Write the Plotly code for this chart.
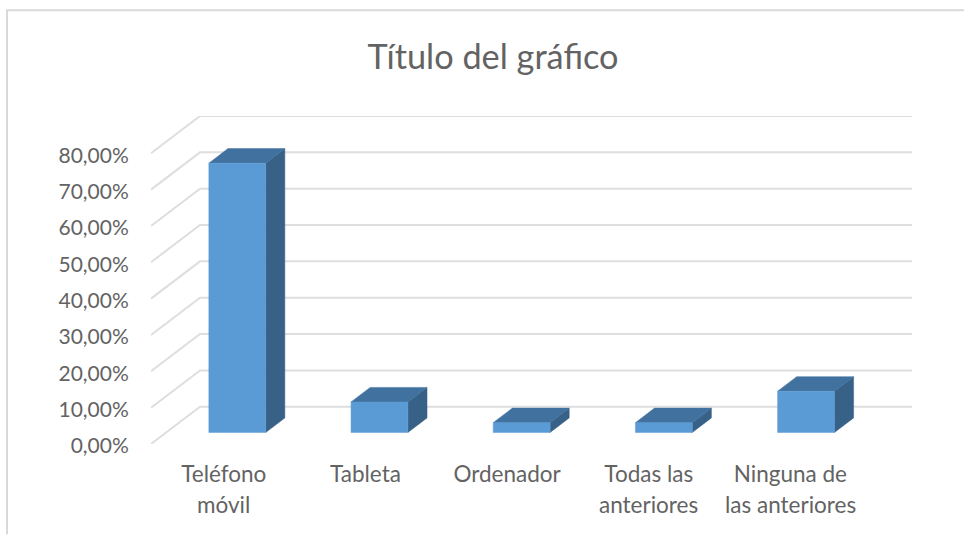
import plotly.graph_objects as go

categories_line1 = ["Teléfono", "Tableta", "Ordenador", "Todas las", "Ninguna de"]
categories_line2 = ["móvil", "", "", "anteriores", "las anteriores"]
values = [74.1, 8.4, 2.7, 2.7, 11.35]
y_ticks = [0, 10, 20, 30, 40, 50, 60, 70, 80]
y_tick_labels = ["0,00%", "10,00%", "20,00%", "30,00%", "40,00%", "50,00%", "60,00%", "70,00%", "80,00%"]
title_text = "Título del gráfico"

W, H = 964, 535
FONT = "Lato"
TEXT = "#636363"
GRID = "#DEDEDE"
FRONT, TOP, SIDE = "#5B9BD5", "#41719F", "#386187"

# Oblique projection, in axis units: one unit of depth moves a point by these amounts
DX, DY = 0.3446, 10.25
D0, D1 = 0.31, 0.70      # depth span of the bars
HW = 0.2                 # half bar width
X0, X1 = -0.5, 4.852
Y0, Y1 = 0, 90.25
label_x = [i * 0.9962 + 0.012 for i in range(5)]


def proj(x, y, d):
    return x + DX * d, y + DY * d


fig = go.Figure()


def poly(pts, color):
    xs = [p[0] for p in pts] + [pts[0][0]]
    ys = [p[1] for p in pts] + [pts[0][1]]
    fig.add_trace(go.Scatter(x=xs, y=ys, mode="lines", fill="toself", fillcolor=color,
                             line=dict(color=color, width=0.5), hoverinfo="skip", showlegend=False))


for v in y_ticks:
    bx, by = proj(X0, v, 1)
    fig.add_trace(go.Scatter(x=[X0, bx, X1], y=[v, by, by], mode="lines",
                             line=dict(color=GRID, width=2), hoverinfo="skip",
                             showlegend=False, cliponaxis=False))

for i, v in enumerate(values):
    l, r = i - HW, i + HW
    poly([proj(r, 0, D0), proj(r, 0, D1), proj(r, v, D1), proj(r, v, D0)], SIDE)
    poly([proj(l, v, D0), proj(r, v, D0), proj(r, v, D1), proj(l, v, D1)], TOP)
    poly([proj(l, 0, D0), proj(r, 0, D0), proj(r, v, D0), proj(l, v, D0)], FRONT)

annotations = [
    dict(x=label_x[i], y=0, xref="x", yref="paper", yshift=-60, text=t, showarrow=False,
         yanchor="middle", font=dict(family=FONT, size=22.5, color=TEXT))
    for i, t in enumerate(categories_line2) if t
]

ML, MR, MT, MB = 151, 52, 116, 90.5
PW, PH = W - ML - MR, H - MT - MB
px = lambda p: (p - ML) / PW
py = lambda p: 1 - (p - MT) / PH
# chart frame, expressed in paper coordinates relative to the plot area
shapes = [
    dict(type="line", xref="paper", yref="paper", x0=px(7), x1=px(7), y0=py(10), y1=py(535),
         line=dict(color="#D9D9D9", width=2)),
    dict(type="line", xref="paper", yref="paper", x0=px(6), x1=px(964), y0=py(10), y1=py(10),
         line=dict(color="#D9D9D9", width=2)),
]

fig.update_layout(
    width=W, height=H,
    margin=dict(l=ML, r=MR, t=MT, b=MB, pad=0, autoexpand=False),
    paper_bgcolor="#FFFFFF", plot_bgcolor="#FFFFFF",
    showlegend=False,
    title=dict(text=title_text, x=493 / W, xanchor="center", y=1 - 57 / H, yanchor="middle",
               font=dict(family=FONT, size=34.3, color=TEXT)),
    font=dict(family=FONT, color=TEXT),
    xaxis=dict(range=[X0, X1], tickmode="array", tickvals=label_x,
               ticktext=categories_line1, showgrid=False, zeroline=False, showline=False,
               ticks="outside", ticklen=10, tickcolor="rgba(0,0,0,0)",
               tickfont=dict(family=FONT, size=22.5, color=TEXT), tickangle=0),
    yaxis=dict(range=[Y0, Y1], tickmode="array", tickvals=y_ticks, ticktext=y_tick_labels,
               showgrid=False, zeroline=False, showline=False,
               ticks="outside", ticklen=17, tickcolor="rgba(0,0,0,0)", ticklabelshift=2,
               tickfont=dict(family=FONT, size=21, color=TEXT)),
    annotations=annotations,
    shapes=shapes,
)

fig.write_html("out.html", config=dict(displayModeBar=False),
               post_script="document.body.style.margin='0';document.body.style.overflow='hidden';")
